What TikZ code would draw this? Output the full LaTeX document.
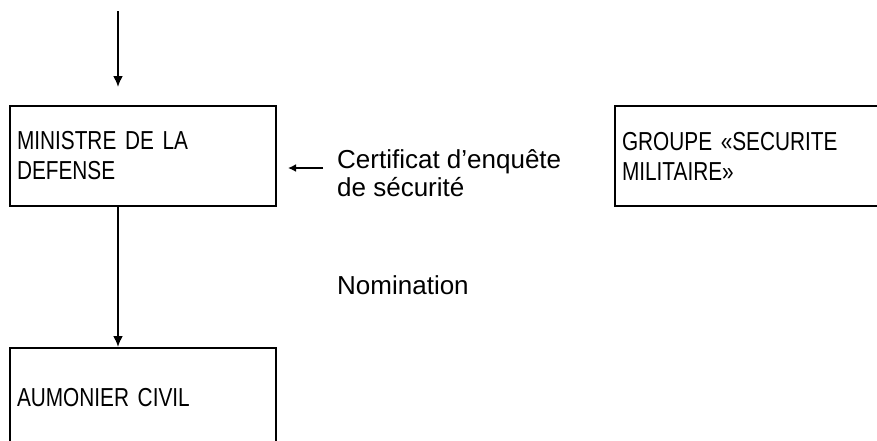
\documentclass[tikz,border=0pt]{standalone}
\usepackage{fontspec}
\setmainfont{Liberation Sans}
\newfontfamily\etroite[FakeStretch=0.8,WordSpace=0.75]{Liberation Sans}
\usetikzlibrary{arrows.meta}

\begin{document}
\begin{tikzpicture}[x=1pt,y=-1pt,
        boite/.style={draw, line width=2pt, minimum height=100pt, text width=252pt,
            inner xsep=7pt, align=left, font=\etroite\fontsize{26}{30}\selectfont},
        legende/.style={align=left, inner sep=0pt, font=\fontsize{26}{28}\selectfont},
        fleche/.style={line width=2pt, -{Latex[length=11pt,width=10pt]}},
        petitefleche/.style={line width=1.8pt, -{Latex[length=8pt,width=8pt]}}]
        \useasboundingbox (0,0) rectangle (877,440);
        % boites
        \node[boite] (ministre) at (143,156) {MINISTRE DE LA\\DEFENSE};
        \node[boite] (groupe) at (748,156) {GROUPE «SECURITE\\MILITAIRE»};
        \node[boite] (aumonier) at (143,398) {AUMONIER CIVIL};
        % textes
        \node[legende, anchor=base west] (certif) at (337,196) {Certificat d’enquête\\de sécurité};
        \node[legende, anchor=base west] (nomination) at (337,294) {Nomination};
        % fleches
        \coordinate (haut) at (118,11);
        \coordinate (bas) at (118,87);
        \coordinate (depart) at (323,168);
        \coordinate (arrivee) at (288,168);
        \draw[fleche] (haut) -- (bas);
        \draw[fleche] (ministre.south -| haut) -- (aumonier.north -| haut);
        \draw[petitefleche] (depart) -- (arrivee);
\end{tikzpicture}
\end{document}
